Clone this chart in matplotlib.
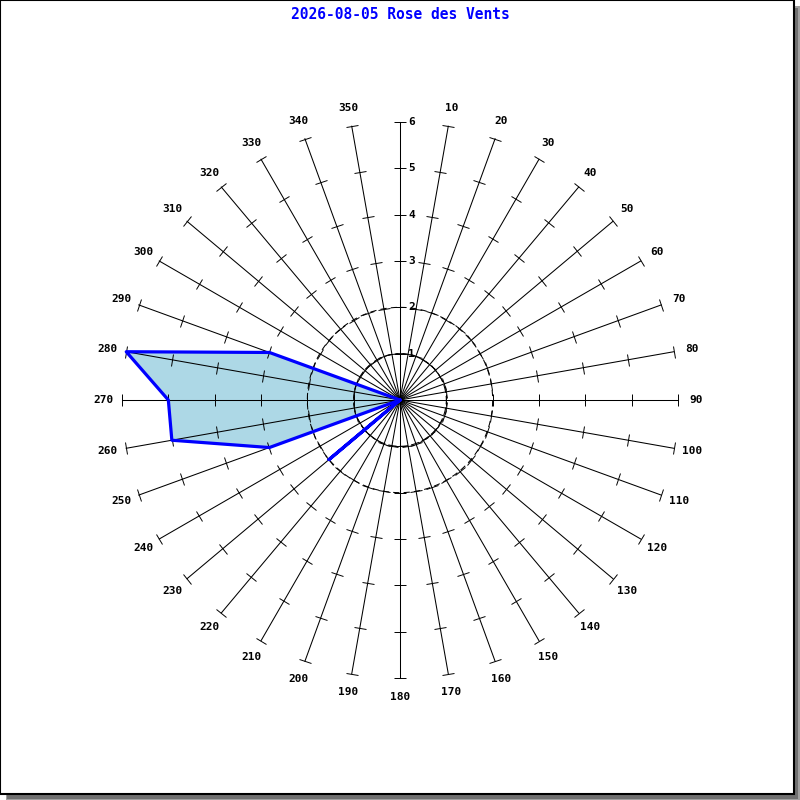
import numpy as np
import matplotlib
matplotlib.use("Agg")
import matplotlib.pyplot as plt
from matplotlib.markers import MarkerStyle
from matplotlib.transforms import Affine2D
from matplotlib.patches import Rectangle

# ---- data ----
directions = list(range(0, 360, 10))
values = [0, 0, 0, 0, 0, 0, 0, 0, 0, 0, 0, 0,
          0, 0, 0, 0, 0, 0, 0, 0, 0, 0, 0, 2,
          0, 3, 5, 5, 6, 3, 0, 0, 0, 0, 0, 0]
radial_ticks = [1, 2, 3, 4, 5, 6]
dir_labels = [str(d) for d in directions]
title = "2026-08-05 Rose des Vents"

fig = plt.figure(figsize=(8, 8), dpi=100)
fig.patch.set_facecolor("white")

# frame with shadow
fig.patches.append(Rectangle((0.0075, 0.0), 0.9925, 0.9925, transform=fig.transFigure,
                             facecolor="#a0a0a0", edgecolor="none", zorder=-10))
fig.patches.append(Rectangle((0.009, 0.0015), 0.989, 0.989, transform=fig.transFigure,
                             facecolor="#707070", edgecolor="none", zorder=-9))
fig.patches.append(Rectangle((0.0, 0.0075), 0.9925, 0.9925, transform=fig.transFigure,
                             facecolor="white", edgecolor="black", linewidth=1.5, zorder=-8))

ax = fig.add_axes([0.1525, 0.1525, 0.695, 0.695], polar=True)
ax.set_theta_zero_location("N")
ax.set_theta_direction(-1)
ax.set_ylim(0, 6)
ax.set_axis_off()
ax.patch.set_alpha(0)

mono = "DejaVu Sans Mono"

# radial axes
for d, lab in zip(directions, dir_labels):
    th = np.deg2rad(d)
    ax.plot([th, th], [0, 6], color="black", lw=0.75, zorder=2, clip_on=False)
    ms = MarkerStyle("_", transform=Affine2D().rotate_deg(-d))
    ax.plot([th] * len(radial_ticks), radial_ticks, linestyle="none",
            marker=ms, markersize=8.5, markeredgewidth=0.7, color="black",
            zorder=2, clip_on=False)
    if d != 0:
        ax.text(th, 6.4, lab, ha="center", va="center", fontsize=8,
                fontweight="bold", family=mono, clip_on=False)

# dashed circles
circ_t = np.linspace(0, 2 * np.pi, 361)
for r, dash in [(1, (0, (8, 3))), (2, (0, (6, 4)))]:
    ax.plot(circ_t, [r] * len(circ_t), color="black", lw=0.75,
            linestyle=dash, zorder=2)

# radial scale labels on north axis
for r in radial_ticks:
    ax.annotate(str(r), xy=(0, r), xytext=(6, 0), textcoords="offset points",
                ha="left", va="center", fontsize=8, fontweight="bold", family=mono)

# polygon
th_poly = np.deg2rad(directions + [directions[0]])
v_poly = values + [values[0]]
ax.fill(th_poly, v_poly, facecolor="#add8e6", edgecolor="none", zorder=1, clip_on=False)
ax.plot(th_poly, v_poly, color="#0000ff", lw=2.3, zorder=3, clip_on=False)

fig.text(0.5, 0.982, title, ha="center", va="center", color="#0000ff",
         fontsize=10.5, fontweight="bold", family=mono)

fig.savefig("out.png", dpi=100)
